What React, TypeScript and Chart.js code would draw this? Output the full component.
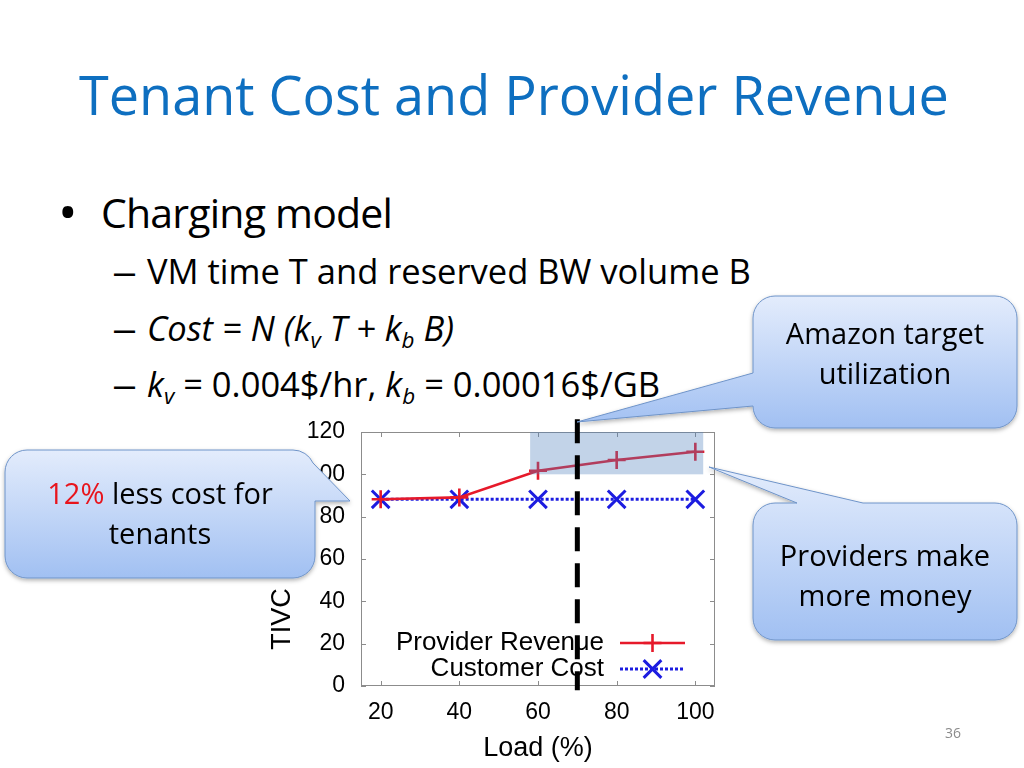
import React, { useEffect, useRef } from "react";
import { Chart, registerables } from "chart.js";

Chart.register(...registerables);

// ---- chart data ----
const LOADS = [20, 40, 60, 80, 100];
const PROVIDER_REVENUE = [88.2, 89.1, 101.7, 106.8, 110.7];
const CUSTOMER_COST = [88.2, 88.2, 88.2, 88.2, 88.2];
const X_TICKS = [20, 40, 60, 80, 100];
const Y_TICKS = [0, 20, 40, 60, 80, 100, 120];
const X_LIMITS = [15, 105];
const Y_LIMITS = [0, 120];
const TARGET_BAND_X = [58, 102];
const TARGET_BAND_Y = [100, 120];
const TARGET_LOAD = 70;
const TARGET_LINE_SPAN = [-2, 126];
const SERIES_LABELS = ["Provider Revenue", "Customer Cost"];
const X_TITLE = "Load (%)";
const Y_TITLE = "TIVC";

const CHART_FONT = "'Liberation Sans', Arial, Helvetica, sans-serif";
const SLIDE_FONT = "'Open Sans', 'Noto Sans', sans-serif";

const RED = "#e6192a";
const BLUE = "#1c1ce0";

const decorPlugin = {
  id: "gnuplotDecor",
  beforeDatasetsDraw(chart: any) {
    const { ctx, chartArea: a, scales } = chart;
    const x = scales.x;
    const y = scales.y;
    ctx.save();
    ctx.strokeStyle = "#8c8c8c";
    ctx.lineWidth = 1;
    ctx.strokeRect(a.left + 0.5, a.top + 0.5, a.right - a.left - 1, a.bottom - a.top - 1);
    const len = 5;
    ctx.beginPath();
    X_TICKS.forEach((v) => {
      const px = Math.round(x.getPixelForValue(v)) + 0.5;
      ctx.moveTo(px, a.bottom);
      ctx.lineTo(px, a.bottom - len);
      ctx.moveTo(px, a.top);
      ctx.lineTo(px, a.top + len);
    });
    Y_TICKS.forEach((v) => {
      const py = Math.round(y.getPixelForValue(v)) + 0.5;
      ctx.moveTo(a.left, py);
      ctx.lineTo(a.left + len, py);
      ctx.moveTo(a.right, py);
      ctx.lineTo(a.right - len, py);
    });
    ctx.stroke();
    ctx.restore();
  },
  afterDatasetsDraw(chart: any) {
    const { ctx, chartArea: a, scales } = chart;
    const x = scales.x;
    const y = scales.y;
    ctx.save();
    // target utilisation band (semi-transparent overlay)
    const bx0 = x.getPixelForValue(TARGET_BAND_X[0]);
    const bx1 = x.getPixelForValue(TARGET_BAND_X[1]);
    const by0 = y.getPixelForValue(TARGET_BAND_Y[1]);
    const by1 = y.getPixelForValue(TARGET_BAND_Y[0]);
    ctx.fillStyle = "rgba(79,129,189,0.35)";
    ctx.fillRect(bx0, by0, bx1 - bx0, by1 - by0);

    // gnuplot-style legend inside the plot
    const rows = [
      { ds: 0, yy: a.bottom - 43 },
      { ds: 1, yy: a.bottom - 17 },
    ];
    rows.forEach(({ ds, yy }) => {
      const d = chart.data.datasets[ds];
      ctx.font = `26px ${CHART_FONT}`;
      ctx.fillStyle = "#000";
      ctx.textAlign = "right";
      ctx.textBaseline = "middle";
      ctx.fillText(d.label, a.right - 111, yy);
      const s0 = a.right - 95;
      const s1 = a.right - 30;
      ctx.strokeStyle = d.borderColor;
      ctx.lineWidth = d.borderWidth;
      ctx.setLineDash(d.borderDash || []);
      ctx.beginPath();
      ctx.moveTo(s0, yy);
      ctx.lineTo(s1, yy);
      ctx.stroke();
      ctx.setLineDash([]);
      const cx = (s0 + s1) / 2;
      const r = d.pointRadius;
      ctx.lineWidth = d.pointBorderWidth;
      ctx.beginPath();
      if (d.pointStyle === "cross") {
        ctx.moveTo(cx - r, yy);
        ctx.lineTo(cx + r, yy);
        ctx.moveTo(cx, yy - r);
        ctx.lineTo(cx, yy + r);
      } else {
        const o = r * Math.SQRT1_2;
        ctx.moveTo(cx - o, yy - o);
        ctx.lineTo(cx + o, yy + o);
        ctx.moveTo(cx - o, yy + o);
        ctx.lineTo(cx + o, yy - o);
      }
      ctx.stroke();
    });

    // target load dashed line
    const lx = x.getPixelForValue(TARGET_LOAD);
    ctx.strokeStyle = "#000";
    ctx.lineWidth = 5;
    ctx.setLineDash([24, 12]);
    ctx.beginPath();
    ctx.moveTo(lx, y.getPixelForValue(TARGET_LINE_SPAN[1]));
    ctx.lineTo(lx, y.getPixelForValue(TARGET_LINE_SPAN[0]));
    ctx.stroke();
    ctx.restore();
  },
};

function TivcChart() {
  const ref = useRef<HTMLCanvasElement | null>(null);
  useEffect(() => {
    if (!ref.current) return;
    const chart = new Chart(ref.current, {
      type: "line",
      data: {
        datasets: [
          {
            label: SERIES_LABELS[0],
            data: LOADS.map((l, i) => ({ x: l, y: PROVIDER_REVENUE[i] })),
            borderColor: RED,
            backgroundColor: RED,
            borderWidth: 2.6,
            pointStyle: "cross",
            pointRadius: 9,
            pointBorderWidth: 2.6,
            pointBorderColor: RED,
            tension: 0,
            fill: false,
          } as any,
          {
            label: SERIES_LABELS[1],
            data: LOADS.map((l, i) => ({ x: l, y: CUSTOMER_COST[i] })),
            borderColor: BLUE,
            backgroundColor: BLUE,
            borderWidth: 3,
            borderDash: [3, 2],
            pointStyle: "crossRot",
            pointRadius: 12.5,
            pointBorderWidth: 3,
            pointBorderColor: BLUE,
            tension: 0,
            fill: false,
          } as any,
        ],
      },
      options: {
        animation: false,
        responsive: true,
        maintainAspectRatio: false,
        layout: { padding: { left: 300, right: 309, top: 432, bottom: 0 } },
        plugins: { legend: { display: false }, tooltip: { enabled: false } },
        scales: {
          x: {
            type: "linear",
            min: X_LIMITS[0],
            max: X_LIMITS[1],
            afterBuildTicks: (s: any) => {
              s.ticks = X_TICKS.map((value) => ({ value }));
            },
            afterFit: (s: any) => {
              s.height = 82;
            },
            grid: { display: false, drawTicks: false },
            border: { display: false },
            ticks: {
              autoSkip: false,
              maxRotation: 0,
              padding: 13,
              color: "#000",
              font: { family: CHART_FONT, size: 23 },
            },
            title: {
              display: true,
              text: X_TITLE,
              color: "#000",
              font: { family: CHART_FONT, size: 27 },
              padding: { top: 0, bottom: 3 },
            },
          },
          y: {
            type: "linear",
            min: Y_LIMITS[0],
            max: Y_LIMITS[1],
            afterBuildTicks: (s: any) => {
              s.ticks = Y_TICKS.map((value) => ({ value }));
            },
            afterFit: (s: any) => {
              s.width = 61;
            },
            grid: { display: false, drawTicks: false },
            border: { display: false },
            ticks: {
              autoSkip: false,
              padding: 16,
              color: "#000",
              font: { family: CHART_FONT, size: 23 },
            },
          },
        },
      },
      plugins: [decorPlugin],
    } as any);
    return () => chart.destroy();
  }, []);
  return (
    <div style={{ position: "absolute", left: 0, top: 0, width: 1024, height: 768 }}>
      <canvas ref={ref} />
    </div>
  );
}

function Txt(props: {
  x: number;
  base: number;
  size: number;
  children: React.ReactNode;
  color?: string;
  center?: boolean;
  family?: string;
  style?: React.CSSProperties;
}) {
  const { x, base, size, children, color = "#000", center, family = SLIDE_FONT, style } = props;
  return (
    <div
      style={{
        position: "absolute",
        left: x,
        top: base - 0.888 * size,
        fontSize: size,
        lineHeight: `${size}px`,
        fontFamily: family,
        color,
        whiteSpace: "nowrap",
        transform: center ? "translateX(-50%)" : undefined,
        ...style,
      }}
    >
      {children}
    </div>
  );
}

const Sub = ({ children }: { children: React.ReactNode }) => (
  <span style={{ fontSize: "0.65em", position: "relative", top: "0.3em" }}>{children}</span>
);

const Dash = ({ base }: { base: number }) => (
  <Txt x={112} base={base} size={34.5} style={{ transform: "scaleX(1.45)", transformOrigin: "left center" }}>
    –
  </Txt>
);

const CALLOUT_LEFT =
  "M 27,450 H 293 A 22 22 0 0 1 313,463 L 350,501 L 315,501 V 556 A 22 22 0 0 1 293,578 H 27 A 22 22 0 0 1 5,556 V 472 A 22 22 0 0 1 27,450 Z";
const CALLOUT_TOP =
  "M 775,296 H 995 A 22 22 0 0 1 1017,318 V 406 A 22 22 0 0 1 995,428 H 775 A 22 22 0 0 1 753,406 L 577,422 L 753,373 V 318 A 22 22 0 0 1 775,296 Z";
const CALLOUT_BOTTOM =
  "M 775,503 H 797 L 709,467 L 863,503 H 995 A 22 22 0 0 1 1017,525 V 618 A 22 22 0 0 1 995,640 H 775 A 22 22 0 0 1 753,618 V 525 A 22 22 0 0 1 775,503 Z";

function Callouts() {
  return (
    <svg
      width={1024}
      height={768}
      style={{ position: "absolute", left: 0, top: 0, pointerEvents: "none" }}
    >
      <defs>
        <linearGradient id="cg" x1="0" y1="0" x2="0" y2="1">
          <stop offset="0" stopColor="#e3ecfc" />
          <stop offset="1" stopColor="#a1c0f2" />
        </linearGradient>
        <filter id="sh" x="-10%" y="-10%" width="120%" height="130%">
          <feDropShadow dx="0" dy="2" stdDeviation="2" floodColor="#000" floodOpacity="0.3" />
        </filter>
      </defs>
      {[CALLOUT_LEFT, CALLOUT_TOP, CALLOUT_BOTTOM].map((d, i) => (
        <path key={i} d={d} fill="url(#cg)" stroke="#6f94c9" strokeWidth={1} filter="url(#sh)" />
      ))}
    </svg>
  );
}

export default function App() {
  return (
    <div
      style={{
        position: "fixed",
        left: 0,
        top: 0,
        width: 1024,
        height: 768,
        background: "#fff",
        overflow: "hidden",
      }}
    >
      <Txt x={79} base={114.5} size={54} color="#0e6fc0">
        Tenant Cost and Provider Revenue
      </Txt>

      <Txt x={58} base={231} size={52}>
        •
      </Txt>
      <Txt x={101} base={228.5} size={41} style={{ letterSpacing: "-0.8px" }}>
        Charging model
      </Txt>

      <Dash base={285} />
      <Txt x={147} base={285} size={34.5}>
        VM time T and reserved BW volume B
      </Txt>

      <Dash base={341.5} />
      <Txt x={147} base={341.5} size={34.5} style={{ fontStyle: "italic" }}>
        Cost = N (k<Sub>v</Sub> T + k<Sub>b</Sub> B)
      </Txt>

      <Dash base={398} />
      <Txt x={147} base={398} size={34.5}>
        <i>k</i>
        <Sub>
          <i>v</i>
        </Sub>{" "}
        = 0.004$/hr, <i>k</i>
        <Sub>
          <i>b</i>
        </Sub>{" "}
        = 0.00016$/GB
      </Txt>

      <TivcChart />

      <div
        style={{
          position: "absolute",
          left: 281,
          top: 619,
          transform: "translate(-50%, -50%) rotate(-90deg)",
          fontFamily: CHART_FONT,
          fontSize: 27,
          lineHeight: "27px",
          whiteSpace: "nowrap",
          color: "#000",
        }}
      >
        {Y_TITLE}
      </div>

      <Callouts />

      <Txt x={160} base={504} size={29} center>
        <span style={{ color: "#e8141c" }}>12%</span> less cost for
      </Txt>
      <Txt x={160} base={544} size={29} center>
        tenants
      </Txt>

      <Txt x={885} base={343.5} size={29} center>
        Amazon target
      </Txt>
      <Txt x={885} base={383.5} size={29} center>
        utilization
      </Txt>

      <Txt x={885} base={566} size={29} center>
        Providers make
      </Txt>
      <Txt x={885} base={606} size={29} center>
        more money
      </Txt>

      <Txt x={953} base={738.5} size={14} center color="#8b8b8b">
        36
      </Txt>
    </div>
  );
}
